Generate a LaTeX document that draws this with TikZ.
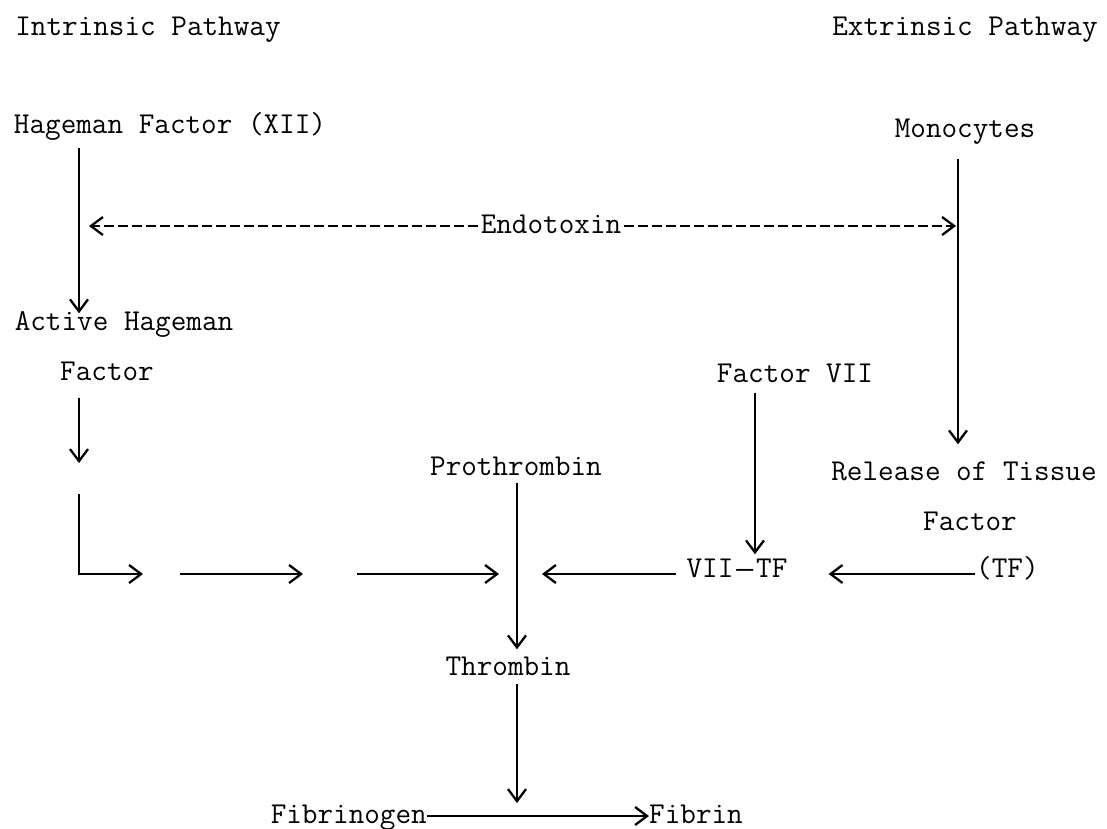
\documentclass[tikz,border=0pt]{standalone}
\usepackage{fontspec}
\newfontfamily\dashfont{Liberation Mono}
\usepackage{tikz}
\usetikzlibrary{arrows.meta}

\tikzset{
  lbl/.style={font=\ttfamily\fontsize{30.3}{34}\selectfont, inner sep=0pt, anchor=base,
    text height=19.5pt, text depth=5.5pt},
  arr/.style={line width=2.3pt, -{Straight Barb[length=12pt,width=18pt]}},
  dsh/.style={dash pattern=on 10pt off 4pt}
}

\begin{document}
\begin{tikzpicture}[x=1pt,y=-1pt]
    \useasboundingbox (0,0) rectangle (1107,828);
    % columns and rows the lines run along
    \coordinate (hx) at (79,0);
    \coordinate (mx) at (958,0);
    \coordinate (px) at (517,0);
    \coordinate (vx) at (755,0);
    \coordinate (row) at (0,574);

    % Headings
    \node[lbl] (intr) at (148,35) {Intrinsic Pathway};
    \node[lbl] (extr) at (965,35) {Extrinsic Pathway};

    % Intrinsic side
    \node[lbl] (hag) at (170,133) {Hageman Factor (XII)};
    \node[lbl] (act) at (124,330) {Active Hageman};
    \node[lbl] (actf) at (107,380) {Factor};

    % Extrinsic side
    \node[lbl] (mono) at (965,137) {Monocytes};
    \node[lbl] (endo) at (551,233) {Endotoxin};
    \node[lbl] (fvii) at (795,382) {Factor VII};
    \node[lbl] (rel) at (964,480) {Release of Tissue};
    \node[lbl] (relf) at (970,530) {Factor};
    \node[lbl, anchor=base west] (tf) at (976,577) {(TF)};
    \node[lbl] (vtf) at (737,577) {VII\kern3pt{\dashfont\fontsize{28}{30}\selectfont—}\kern3pt TF};

    % Common pathway
    \node[lbl] (pro) at (516,475) {Prothrombin};
    \node[lbl] (thr) at (508,675) {Thrombin};
    \node[lbl, anchor=base east] (fbg) at (427,823) {Fibrinogen};
    \node[lbl, anchor=base west] (fib) at (649,823) {Fibrin};

    % Hageman factor
    \draw[arr, shorten <=9pt, shorten >=-3pt] (hag.south -| hx) -- (act.north -| hx);
    \coordinate (c1) at (79,463);
    \draw[arr, shorten <=12pt] (actf.south -| hx) -- (c1);

    % Monocytes
    \draw[arr, shorten <=16pt, shorten >=16pt] (mono.south -| mx) -- (rel.north -| mx);

    % Endotoxin acts on both
    \draw[arr, dsh, shorten <=3pt, shorten >=10pt] (endo.west) -- (endo.west -| hx);
    \draw[arr, dsh, shorten <=3pt, shorten >=2pt] (endo.east) -- (endo.east -| mx);

    % Intrinsic cascade
    \coordinate (l0) at (79,494);
    \coordinate (a0) at (143,574);
    \coordinate (a1) at (180,574);
    \coordinate (a2) at (303,574);
    \coordinate (a3) at (357,574);
    \coordinate (a4) at (499,574);
    \draw[arr] (l0) |- (a0);
    \foreach \s/\e in {a1/a2, a3/a4}
        \draw[arr] (\s) -- (\e);

    % Extrinsic cascade
    \draw[arr, shorten <=5pt, shorten >=3pt] (fvii.south -| vx) -- (vtf.north -| vx);
    \draw[arr, shorten <=1pt, shorten >=41pt] (tf.west |- row) -- (vtf.east |- row);
    \draw[arr, shorten <=10pt, shorten >=25pt] (vtf.west |- row) -- (px |- row);

    % Thrombin and fibrin
    \draw[arr, shorten <=2pt, shorten >=6pt] (pro.south -| px) -- (thr.north -| px);
    \coordinate (fj) at (517,818);
    \draw[arr, shorten <=3pt, shorten >=15pt] (thr.south -| px) -- (fj);
    \draw[arr] (fbg.east) -- (fib.west);
\end{tikzpicture}
\end{document}
